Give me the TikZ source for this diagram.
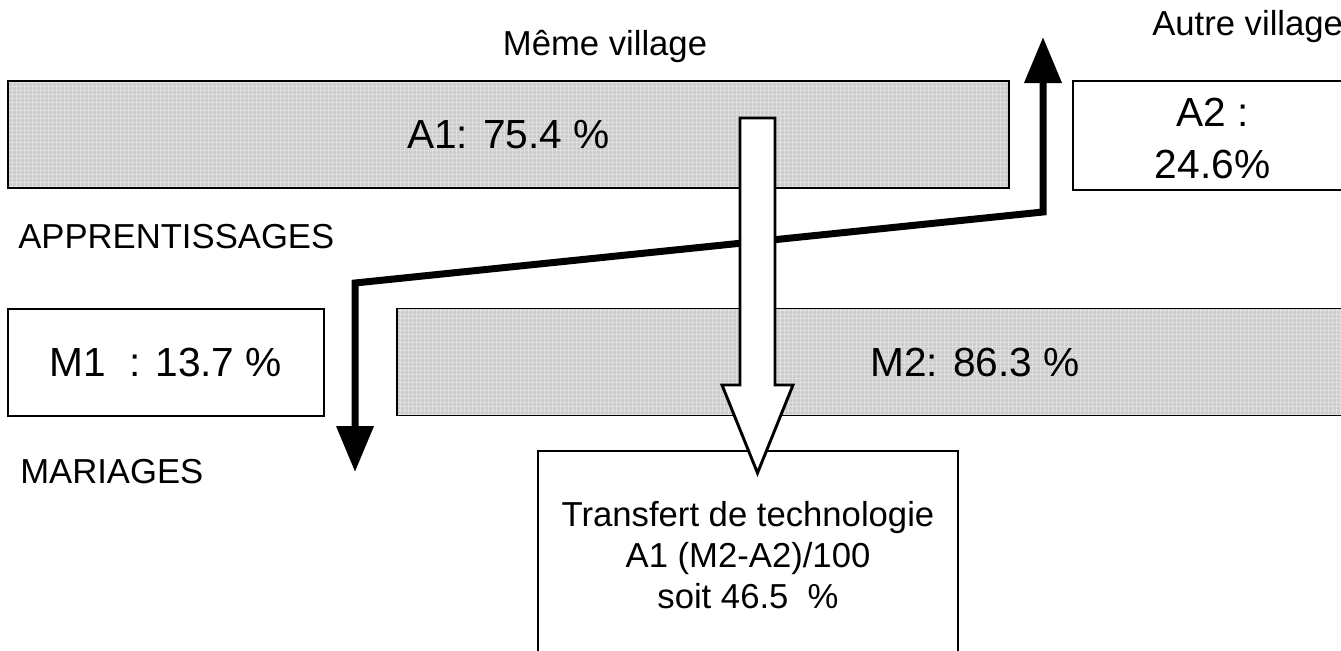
\documentclass[tikz,border=0pt]{standalone}
\usepackage{fontspec}
\setmainfont{Liberation Sans}
\usetikzlibrary{arrows.meta,patterns}

\tikzset{
  grisbox/.style={draw, line width=1.2pt, preaction={fill=black!20}, pattern=grid, pattern color=white!88!black, inner sep=0pt},
  blancbox/.style={draw, line width=1.2pt, fill=white, inner sep=0pt},
  lbl/.style={font=\fontsize{26}{31}\selectfont, inner sep=0pt},
  gros/.style={font=\fontsize{30.5}{39}\selectfont},
  fleche/.style={line width=5.25pt, {Triangle[width=27pt,length=34.5pt]}-{Triangle[width=27pt,length=34.5pt]}},
  bloc/.style={draw, line width=2.2pt, fill=white},
}

\begin{document}
\begin{tikzpicture}[x=0.75pt,y=-0.75pt]
  \useasboundingbox (0,0) rectangle (1341,650);
  \clip (0,0) rectangle (1341,650);

  % boites
  \node[grisbox, lbl, gros, minimum width=750.75pt, minimum height=80.25pt] (a1) at (508.5,134.5) {A1: 75.4 \%};
  \node[blancbox, minimum width=209pt, minimum height=81.75pt] (a2) at (1212.5,135.5) {};
  \node[lbl, gros, align=center] (a2txt) at (1212.5,138) {A2 :\\24.6\%};
  \node[blancbox, lbl, gros, minimum width=237pt, minimum height=80.25pt] (m1) at (166,362.5) {M1 \ : 13.7 \%};
  \node[grisbox, lbl, gros, minimum width=867pt, minimum height=80.25pt] (m2) at (975,362) {M2: 86.3 \%};
  \node[blancbox, minimum width=315pt, minimum height=201.75pt] (transfert) at (748,585.5) {};
  \node[lbl, align=center] (trtxt) at (748,555) {Transfert de technologie\\A1 (M2-A2)/100\\soit 46.5 \ \%};

  % titres
  \node[lbl, anchor=base] (meme) at (605,55) {Même village};
  \node[lbl, anchor=base west] (autre) at (1152,35) {Autre village};
  \node[lbl, anchor=base west] (appr) at (18,248) {APPRENTISSAGES};
  \node[lbl, anchor=base west] (mar) at (20,483) {MARIAGES};

  % fleche noire
  \coordinate (bas) at (355,472);
  \coordinate (coinA) at (355,283);
  \coordinate (coinB) at (1043,212);
  \coordinate (haut) at (1043,37);
  \draw[fleche] (bas) -- (coinA) -- (coinB) -- (haut);

  % fleche blanche
  \coordinate (depart) at (757.5,118);
  \coordinate (pointe) at (757.5,473);
  \draw[bloc] (depart) ++(-17.5,0) -- ++(35,0) -- ++(0,267) -- ++(18,0)
    -- (pointe) -- ++(-35.5,-88) -- ++(18,0) -- cycle;
\end{tikzpicture}
\end{document}
